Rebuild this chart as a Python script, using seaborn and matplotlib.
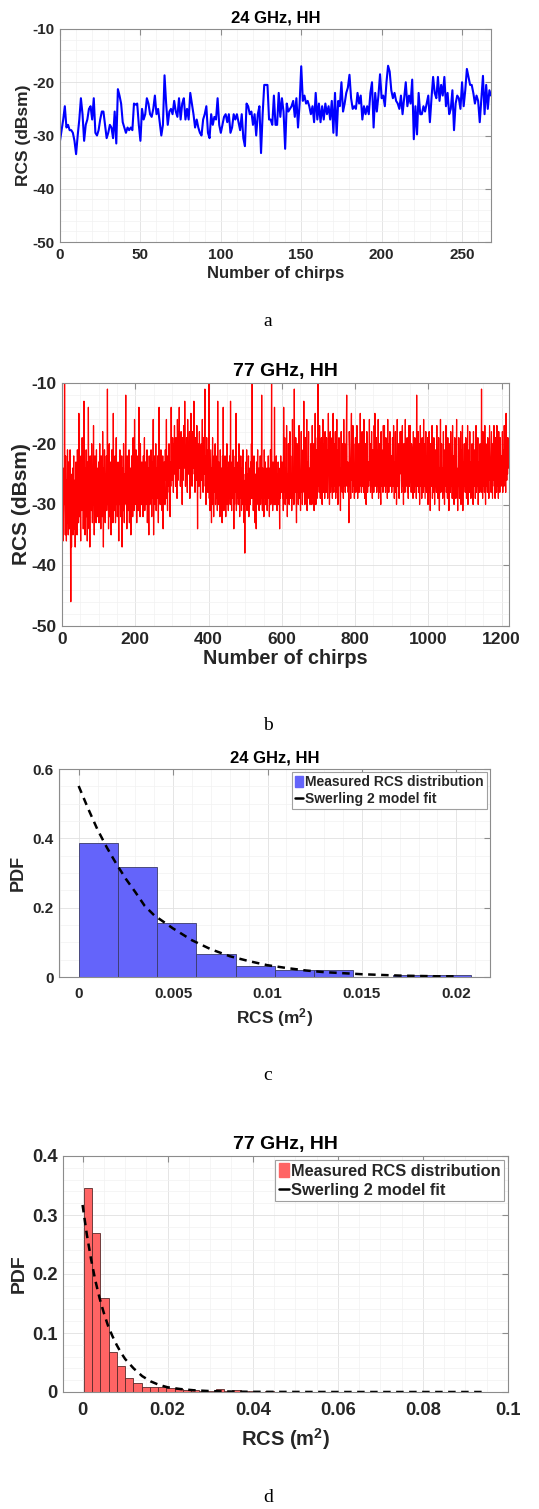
import numpy as np
import pandas as pd
import matplotlib
matplotlib.use("Agg")
import matplotlib.pyplot as plt
import seaborn as sns
from matplotlib.ticker import MultipleLocator, FixedLocator, FixedFormatter
from matplotlib.patches import Patch
from matplotlib.lines import Line2D

# ---------------- data ----------------
# (a) 24 GHz HH, RCS per chirp (dBsm)
a_rcs_db = [
    -31, -29, -27, -24.5, -28.5, -28, -29, -29, -29.5, -31, -33.5, -30, -27,
    -23, -26, -31, -28, -27, -25, -24.5, -27, -23, -29.5, -30, -29, -27,
    -25.5, -25.5, -28, -30.5, -29.5, -28, -28.5, -30.5, -25.5, -31.5,
    -21.3, -22.5, -24, -27.5, -28.5, -29.5, -28.5, -29, -28.5, -29,
    -24, -24.2, -24, -28, -31,
    -25, -27, -26, -23, -24, -26, -26.5, -25, -22.5, -26, -25, -27.5, -30, -28,
    -18.7, -24, -28, -25.5, -25, -26, -23.5, -25.5, -26.5, -23,
    -27, -24, -23, -27, -25, -27, -22, -24, -26, -28.5, -27,
    -28.5, -29.5, -30, -27, -26, -24.5, -29.5, -30.5, -26, -28, -26.5, -27, -23, -28,
    -29.5, -28, -26.5, -26, -27.5, -26, -29.5, -28.5, -26, -27, -26, -27.5, -29, -26, -30.5, -32,
    -24, -24.5, -26, -25.5, -28, -26, -30, -26, -24.5, -33.3,
    -26, -20.5, -20.5, -20.5, -27, -27, -28, -22.5, -28, -28, -22, -26.5, -23, -25.5, -32.5,
    -24, -25.5, -25, -24.5, -23.5, -26.5, -23, -28.5, -24, -17,
    -23.5, -22.5, -24, -23.5, -24.5, -26, -24.5, -27.5, -22, -27, -24, -27.5, -24.5, -27, -24, -26, -24.5, -27, -23.5, -29.5,
    -22, -30, -23.5, -24.5, -20, -25.5, -24, -22, -21, -18.6,
    -23, -25, -24.5, -25, -22, -24, -22.5, -27, -24.5, -26, -24.5, -26, -22, -20,
    -28.5, -22, -25.5, -22.5, -18.5, -23, -22.5, -24.5, -20, -16.9, -18,
    -21.5, -23, -22, -23.5, -24, -25, -22.5, -26, -23, -20, -24.5, -22.5, -24, -19.5, -30.7,
    -24.5, -29.8, -22, -26, -26, -24.5, -25.5, -24, -22.5, -27.5, -23, -19, -22, -23, -19,
    -23.5, -20.5, -22.5, -19, -24.5, -22, -26, -25, -21.5, -29, -24, -22.5, -23, -25, -20,
    -24.5, -21.5, -17.5, -19, -20.5, -20.5, -22, -24, -22.5, -23.5, -27.5, -23, -18.8, -26, -20.5, -25, -21.5, -22.5,
]

# (b) 77 GHz HH, RCS per chirp (dBsm), in blocks of chirps
b_rcs_db_0000 = [
    -29,-33,-28,-36,-31,-24,-30,-10,-27,-35,-22,-31,-36,-26,-33,-21,-29,-35,-23,-30,
    -34,-26,-21,-33,-46,-30,-37,-25,-32,-24,-35,-28,-22,-34,-30,-26,-37,-29,-23,-31,
    -27,-35,-21,-30,-25,-33,-15,-28,-32,-24,-29,-36,-22,-27,-31,-19,-30,-25,-34,-28,
    -13,-30,-26,-35,-24,-29,-21,-32,-27,-36,-23,-30,-14,-28,-34,-25,-37,-22,-29,-26,
    -31,-20,-27,-33,-24,-30,-17,-28,-35,-26,-22,-31,-27,-33,-21,-29,-24,-32,-26,-30,
    -23,-33,-27,-20,-31,-26,-34,-22,-29,-25,-32,-18,-28,-37,-24,-30,-21,-27,-33,-25,
    -29,-22,-31,-26,-11,-30,-24,-34,-27,-20,-32,-25,-29,-23,-35,-26,-21,-30,-27,-33,
    -15,-28,-24,-31,-26,-22,-33,-27,-19,-30,-25,-32,-28,-23,-29,-36,-24,-30,-21,-27,
    -32,-25,-29,-22,-37,-27,-24,-31,-20,-28,-33,-25,-29,-23,-12,-30,-26,-34,-22,-28,
    -25,-31,-27,-21,-33,-26,-29,-24,-35,-28,-22,-30,-26,-32,-19,-27,-24,-31,-16,-28,
]
b_rcs_db_0200 = [
    -24,-30,-21,-27,-33,-25,-28,-22,-31,-26,-14,-29,-24,-32,-20,-27,-25,-30,-23,-28,
    -26,-32,-22,-29,-24,-19,-31,-27,-23,-30,-25,-28,-21,-33,-26,-24,-29,-35,-22,-27,
    -30,-24,-28,-21,-26,-32,-23,-29,-25,-16,-35,-27,-22,-30,-25,-28,-20,-31,-26,-24,
    -29,-22,-27,-33,-25,-14,-28,-23,-30,-26,-21,-29,-24,-31,-27,-22,-34,-25,-28,-23,
    -27,-30,-21,-26,-24,-16,-29,-25,-31,-22,-27,-24,-20,-28,-26,-32,-23,-27,-14,-25,
    -21,-26,-19,-24,-28,-20,-23,-17,-25,-22,-27,-19,-24,-21,-29,-16,-23,-26,-18,-22,
    -14,-24,-20,-27,-22,-18,-25,-21,-30,-19,-23,-26,-17,-22,-24,-13,-20,-27,-21,-25,
    -19,-23,-28,-16,-22,-25,-20,-24,-18,-29,-21,-26,-15,-23,-20,-27,-22,-18,-24,-21,
    -13,-25,-22,-28,-19,-24,-21,-26,-17,-23,-34,-20,-25,-22,-27,-18,-24,-21,-29,-23,
    -20,-26,-22,-16,-24,-28,-19,-23,-25,-21,-11,-27,-22,-30,-24,-19,-26,-23,-28,-21,
]
b_rcs_db_0400 = [
    -25,-10,-29,-23,-31,-26,-21,-28,-33,-24,-27,-19,-30,-25,-32,-22,-28,-26,-20,-30,
    -24,-29,-27,-22,-31,-13,-26,-30,-23,-28,-25,-32,-21,-27,-29,-24,-26,-33,-22,-28,
    -14,-27,-31,-24,-29,-22,-26,-32,-25,-28,-20,-30,-24,-27,-31,-23,-29,-26,-22,-30,
    -13,-28,-25,-31,-23,-27,-29,-21,-26,-34,-24,-30,-27,-22,-28,-15,-31,-25,-29,-26,
    -23,-30,-27,-20,-28,-32,-25,-29,-22,-27,-31,-24,-26,-30,-21,-28,-25,-33,-27,-38,
    -26,-30,-23,-28,-21,-31,-25,-29,-27,-22,-32,-24,-28,-26,-30,-23,-27,-20,-29,-10,
    -28,-24,-31,-26,-22,-29,-27,-33,-25,-30,-34,-23,-28,-26,-21,-30,-27,-24,-31,-25,
    -28,-22,-30,-26,-29,-12,-27,-31,-24,-28,-25,-32,-21,-27,-29,-23,-30,-26,-28,-24,
    -31,-25,-27,-22,-29,-26,-32,-24,-28,-21,-30,-27,-10,-29,-25,-31,-23,-28,-26,-30,
    -14,-27,-24,-30,-26,-22,-29,-31,-25,-28,-23,-27,-30,-26,-34,-24,-29,-22,-28,-25,
]
b_rcs_db_0600 = [
    -27,-23,-29,-25,-31,-14,-26,-28,-19,-30,-24,-27,-29,-17,-26,-32,-25,-28,-20,-27,
    -30,-24,-18,-29,-22,-28,-25,-31,-27,-16,-26,-29,-24,-30,-11,-27,-25,-28,-19,-29,
    -33,-26,-20,-28,-21,-30,-25,-17,-23,-29,-26,-31,-24,-18,-28,-25,-30,-27,-21,-26,
    -13,-28,-25,-30,-19,-27,-29,-24,-16,-31,-23,-28,-25,-18,-29,-27,-24,-30,-26,-20,
    -28,-25,-30,-17,-27,-26,-29,-20,-31,-25,-28,-15,-27,-30,-21,-26,-29,-19,-27,-10,
    -26,-23,-28,-17,-21,-29,-24,-27,-19,-26,-30,-25,-16,-28,-20,-26,-24,-29,-18,-27,
    -25,-28,-19,-26,-21,-29,-24,-15,-25,-22,-30,-26,-18,-28,-19,-27,-23,-25,-29,-17,
    -15,-26,-28,-20,-27,-25,-18,-29,-24,-26,-16,-28,-25,-30,-21,-27,-19,-26,-24,-28,
    -31,-25,-18,-27,-24,-28,-20,-26,-29,-16,-25,-27,-20,-28,-24,-26,-19,-12,-27,-25,
    -23,-28,-26,-33,-18,-21,-27,-25,-29,-19,-15,-26,-24,-28,-17,-27,-20,-25,-29,-24,
]
b_rcs_db_0800 = [
    -26,-19,-28,-24,-27,-17,-25,-29,-23,-26,-20,-28,-24,-27,-15,-25,-22,-28,-26,-18,
    -27,-24,-21,-28,-16,-23,-29,-26,-20,-27,-30,-24,-18,-21,-28,-25,-23,-27,-24,-16,
    -26,-20,-28,-24,-27,-18,-25,-29,-21,-26,-24,-28,-17,-25,-15,-27,-22,-26,-19,-28,
    -25,-21,-27,-16,-29,-23,-26,-20,-28,-25,-30,-18,-27,-21,-26,-23,-28,-17,-22,-27,
    -17,-26,-23,-28,-19,-22,-27,-24,-29,-16,-26,-24,-28,-20,-25,-18,-27,-24,-26,-22,
    -28,-24,-19,-21,-27,-17,-25,-29,-23,-26,-18,-28,-24,-30,-25,-16,-27,-23,-26,-20,
    -29,-22,-25,-18,-23,-18,-26,-28,-24,-17,-27,-25,-30,-20,-26,-22,-28,-16,-25,-27,
    -21,-26,-19,-28,-23,-29,-25,-17,-27,-24,-17,-26,-23,-28,-20,-21,-27,-24,-29,-18,
    -26,-24,-28,-19,-27,-25,-23,-29,-12,-26,-24,-27,-18,-28,-25,-20,-30,-26,-17,-21,
    -27,-25,-29,-19,-26,-22,-28,-16,-27,-20,-25,-29,-23,-18,-24,-28,-22,-27,-19,-30,
]
b_rcs_db_1000 = [
    -24,-27,-18,-28,-25,-31,-20,-26,-21,-27,-17,-29,-25,-22,-28,-19,-23,-30,-24,-27,
    -21,-26,-28,-17,-27,-23,-29,-25,-19,-27,-31,-24,-26,-16,-28,-25,-20,-27,-24,-29,
    -26,-18,-28,-25,-30,-21,-27,-24,-17,-28,-26,-24,-29,-19,-27,-25,-31,-20,-26,-24,
    -28,-18,-25,-27,-23,-29,-17,-24,-28,-22,-30,-25,-19,-23,-26,-29,-24,-16,-27,-25,
    -31,-24,-27,-19,-26,-29,-23,-28,-18,-30,-21,-27,-24,-17,-31,-23,-28,-25,-20,-27,
    -24,-28,-19,-22,-29,-25,-27,-17,-30,-24,-26,-21,-28,-18,-27,-23,-29,-24,-26,-20,
    -28,-25,-30,-18,-26,-24,-27,-21,-29,-25,-17,-28,-26,-22,-27,-19,-30,-25,-23,-28,
    -26,-20,-27,-24,-28,-11,-25,-23,-29,-18,-22,-27,-24,-28,-17,-26,-30,-20,-25,-27,
    -24,-28,-19,-26,-25,-29,-23,-17,-21,-26,-24,-28,-18,-22,-27,-29,-20,-26,-24,-17,
    -27,-24,-29,-19,-26,-25,-28,-17,-27,-21,-25,-29,-18,-26,-22,-28,-19,-23,-27,-24,
    -22,-26,-18,-28,-21,-25,-27,-17,-26,-20,-24,-28,-15,-23,-26,-19,-25,-19,-24,-23,
]

# (c) 24 GHz histogram (probability per bin) and Swerling 2 fit
c_bin_start = 0.0
c_bin_width = 0.002078
c_bin_prob = [0.386, 0.316, 0.157, 0.066, 0.032, 0.019, 0.019, 0.0, 0.006, 0.006]
c_fit_x = [0, 0.0005, 0.001, 0.0015, 0.002, 0.0025, 0.003, 0.0035, 0.004, 0.005,
           0.006, 0.007, 0.008, 0.009, 0.010, 0.011, 0.012, 0.013, 0.014, 0.015,
           0.016, 0.017, 0.018, 0.019, 0.020]
c_fit_y = [0.551, 0.486, 0.425, 0.373, 0.326, 0.283, 0.245, 0.205, 0.178, 0.140,
           0.106, 0.080, 0.060, 0.046, 0.034, 0.026, 0.019, 0.014, 0.011, 0.008,
           0.006, 0.004, 0.003, 0.002, 0.002]

# (d) 77 GHz histogram and Swerling 2 fit
d_bin_start = 0.0003
d_bin_width = 0.00194
d_bin_prob = [0.345, 0.270, 0.160, 0.068, 0.044, 0.023, 0.016, 0.008, 0.008, 0.008,
              0.007, 0.0045, 0.003, 0.003, 0.002, 0.002, 0.0056, 0.001, 0.003, 0.0015,
              0.001, 0.0008, 0.001, 0.0005, 0.0008, 0.0003, 0.0, 0.0004, 0.0, 0.0,
              0.0, 0.0, 0.0, 0.0, 0.0, 0.0, 0.0, 0.0, 0.0, 0.0,
              0.0, 0.0, 0.0, 0.0, 0.0, 0.0, 0.0, 0.0, 0.0]
d_fit_x = [0, 0.001, 0.002, 0.003, 0.004, 0.005, 0.006, 0.007, 0.008, 0.009,
           0.010, 0.012, 0.014, 0.016, 0.018, 0.020, 0.023, 0.026, 0.030, 0.035,
           0.040, 0.050, 0.060, 0.070, 0.080, 0.095]
d_fit_y = [0.317, 0.267, 0.225, 0.189, 0.159, 0.134, 0.112, 0.095, 0.080, 0.067,
           0.056, 0.040, 0.027, 0.018, 0.012, 0.008, 0.005, 0.003, 0.0015, 0.0007,
           0.0003, 0.0001, 0.0, 0.0, 0.0, 0.0]

# ---------------- style ----------------
sns.set_style("white")
plt.rcParams["font.family"] = ["Liberation Sans", "DejaVu Sans"]
plt.rcParams["font.weight"] = "bold"
plt.rcParams["axes.labelweight"] = "bold"
plt.rcParams["axes.titleweight"] = "bold"
plt.rcParams["mathtext.fontset"] = "custom"
plt.rcParams["mathtext.rm"] = "Liberation Sans:bold"
plt.rcParams["mathtext.bf"] = "Liberation Sans:bold"
plt.rcParams["mathtext.it"] = "Liberation Sans:bold"
plt.rcParams["mathtext.default"] = "rm"

W, H = 539, 1509
fig = plt.figure(figsize=(W / 100, H / 100), dpi=100)
fig.patch.set_facecolor("white")


def px_axes(l, r, t, b):
    return fig.add_axes([l / W, 1 - b / H, (r - l) / W, (b - t) / H])


def style(ax, fs, xminor, yminor):
    for s in ax.spines.values():
        s.set_visible(True)
        s.set_color("#8c8c8c")
        s.set_linewidth(0.8)
    ax.xaxis.set_minor_locator(MultipleLocator(xminor))
    ax.yaxis.set_minor_locator(MultipleLocator(yminor))
    ax.tick_params(which="major", direction="in", length=4, width=0.8,
                   color="#8c8c8c", top=True, right=True, labelsize=fs,
                   labelcolor="#262626", pad=4)
    ax.tick_params(which="minor", length=0, top=True, right=True)
    ax.grid(which="major", color="#e0e0e0", lw=0.6)
    ax.grid(which="minor", color="#f1f1f1", lw=0.5)
    ax.set_axisbelow(True)


def fixed_ticks(axis, vals, labels):
    axis.set_major_locator(FixedLocator(vals))
    axis.set_major_formatter(FixedFormatter(labels))


txt = "#262626"

# ---- (a) ----
ax = px_axes(60, 491, 29, 242)
dfa = pd.DataFrame({"chirp": np.arange(len(a_rcs_db)), "rcs": a_rcs_db})
sns.lineplot(data=dfa, x="chirp", y="rcs", color="#0000FF", lw=1.5, ax=ax)
ax.set_xlim(0, 268)
ax.set_ylim(-50, -10)
fixed_ticks(ax.xaxis, [0, 50, 100, 150, 200, 250], ["0", "50", "100", "150", "200", "250"])
fixed_ticks(ax.yaxis, [-50, -40, -30, -20, -10], ["-50", "-40", "-30", "-20", "-10"])
style(ax, 11, 10, 2)
ax.set_title("24 GHz, HH", fontsize=12, color="black", pad=5)
ax.set_xlabel("Number of chirps", fontsize=12, color=txt, labelpad=3)
ax.set_ylabel("RCS (dBsm)", fontsize=12.5, color=txt, labelpad=1)

# ---- (b) ----
ax = px_axes(62, 509, 383, 626)
b_all = b_rcs_db_0000 + b_rcs_db_0200 + b_rcs_db_0400 + b_rcs_db_0600 + b_rcs_db_0800 + b_rcs_db_1000
dfb = pd.DataFrame({"chirp": np.arange(len(b_all)), "rcs": b_all})
sns.lineplot(data=dfb, x="chirp", y="rcs", color="#FF0000", lw=0.9, ax=ax)
ax.set_xlim(0, 1220)
ax.set_ylim(-50, -10)
fixed_ticks(ax.xaxis, [0, 200, 400, 600, 800, 1000, 1200],
            ["0", "200", "400", "600", "800", "1000", "1200"])
fixed_ticks(ax.yaxis, [-50, -40, -30, -20, -10], ["-50", "-40", "-30", "-20", "-10"])
style(ax, 12.5, 50, 2)
ax.set_title("77 GHz, HH", fontsize=14, color="black", pad=5)
ax.set_xlabel("Number of chirps", fontsize=14.3, color=txt, labelpad=2)
ax.set_ylabel("RCS (dBsm)", fontsize=15, color=txt, labelpad=0)


def hist_panel(ax, start, width, probs, fit_x, fit_y, face, edge, fs_leg):
    n = len(probs)
    centers = [start + width * (i + 0.5) for i in range(n)]
    dfh = pd.DataFrame({"rcs": centers, "prob": probs})
    sns.histplot(data=dfh, x="rcs", weights="prob", binwidth=width,
                 binrange=(start, start + width * n), stat="count",
                 color=face, alpha=1.0, edgecolor=edge, linewidth=0.6, ax=ax)
    dff = pd.DataFrame({"rcs": fit_x, "pdf": fit_y})
    sns.lineplot(data=dff, x="rcs", y="pdf", color="black", lw=1.8, ax=ax,
                 linestyle=(0, (3, 2.2)))
    handles = [Patch(facecolor=face, edgecolor=face),
               Line2D([0], [0], color="black", lw=1.8)]
    leg = ax.legend(handles, ["Measured RCS distribution", "Swerling 2 model fit"],
                    loc="upper right", frameon=True, fancybox=False,
                    framealpha=1, edgecolor="#a0a0a0", borderpad=0.2,
                    labelspacing=0.22, handlelength=0.6, handleheight=0.9,
                    handletextpad=0.15, borderaxespad=0.25,
                    prop={"weight": "bold", "size": fs_leg})
    leg.get_frame().set_linewidth(0.8)
    for t in leg.get_texts():
        t.set_color(txt)


# ---- (c) ----
ax = px_axes(59, 490, 769, 977)
hist_panel(ax, c_bin_start, c_bin_width, c_bin_prob, c_fit_x, c_fit_y,
           "#6464FA", "#3a3a6a", 10)
ax.set_xlim(-0.00104, 0.02178)
ax.set_ylim(0, 0.6)
fixed_ticks(ax.xaxis, [0, 0.005, 0.01, 0.015, 0.02], ["0", "0.005", "0.01", "0.015", "0.02"])
fixed_ticks(ax.yaxis, [0, 0.2, 0.4, 0.6], ["0", "0.2", "0.4", "0.6"])
style(ax, 11, 0.001, 0.05)
ax.tick_params(axis="x", pad=7)
ax.set_title("24 GHz, HH", fontsize=12, color="black", pad=5)
ax.set_xlabel("RCS (m$^2$)", fontsize=12.5, color=txt, labelpad=4)
ax.set_ylabel("PDF", fontsize=13, color=txt, labelpad=4)

# ---- (d) ----
ax = px_axes(63, 508, 1156, 1392)
hist_panel(ax, d_bin_start, d_bin_width, d_bin_prob, d_fit_x, d_fit_y,
           "#FF6464", "#5a2a2a", 11.8)
ax.set_xlim(-0.0046, 0.1)
ax.set_ylim(0, 0.4)
fixed_ticks(ax.xaxis, [0, 0.02, 0.04, 0.06, 0.08, 0.1], ["0", "0.02", "0.04", "0.06", "0.08", "0.1"])
fixed_ticks(ax.yaxis, [0, 0.1, 0.2, 0.3, 0.4], ["0", "0.1", "0.2", "0.3", "0.4"])
style(ax, 13.2, 0.005, 0.02)
ax.tick_params(axis="x", pad=7)
ax.set_title("77 GHz, HH", fontsize=14, color="black", pad=5)
ax.set_xlabel("RCS (m$^2$)", fontsize=14.5, color=txt, labelpad=5)
ax.set_ylabel("PDF", fontsize=14, color=txt, labelpad=3)

# ---- captions ----
for lab, yy in [("a", 322), ("b", 726), ("c", 1076), ("d", 1497)]:
    fig.text(268 / W, 1 - yy / H, lab, ha="center", va="center",
             fontsize=14, family=["Liberation Serif", "DejaVu Serif"],
             fontweight="normal", color="black")

fig.savefig("out.png", dpi=100, facecolor="white")
